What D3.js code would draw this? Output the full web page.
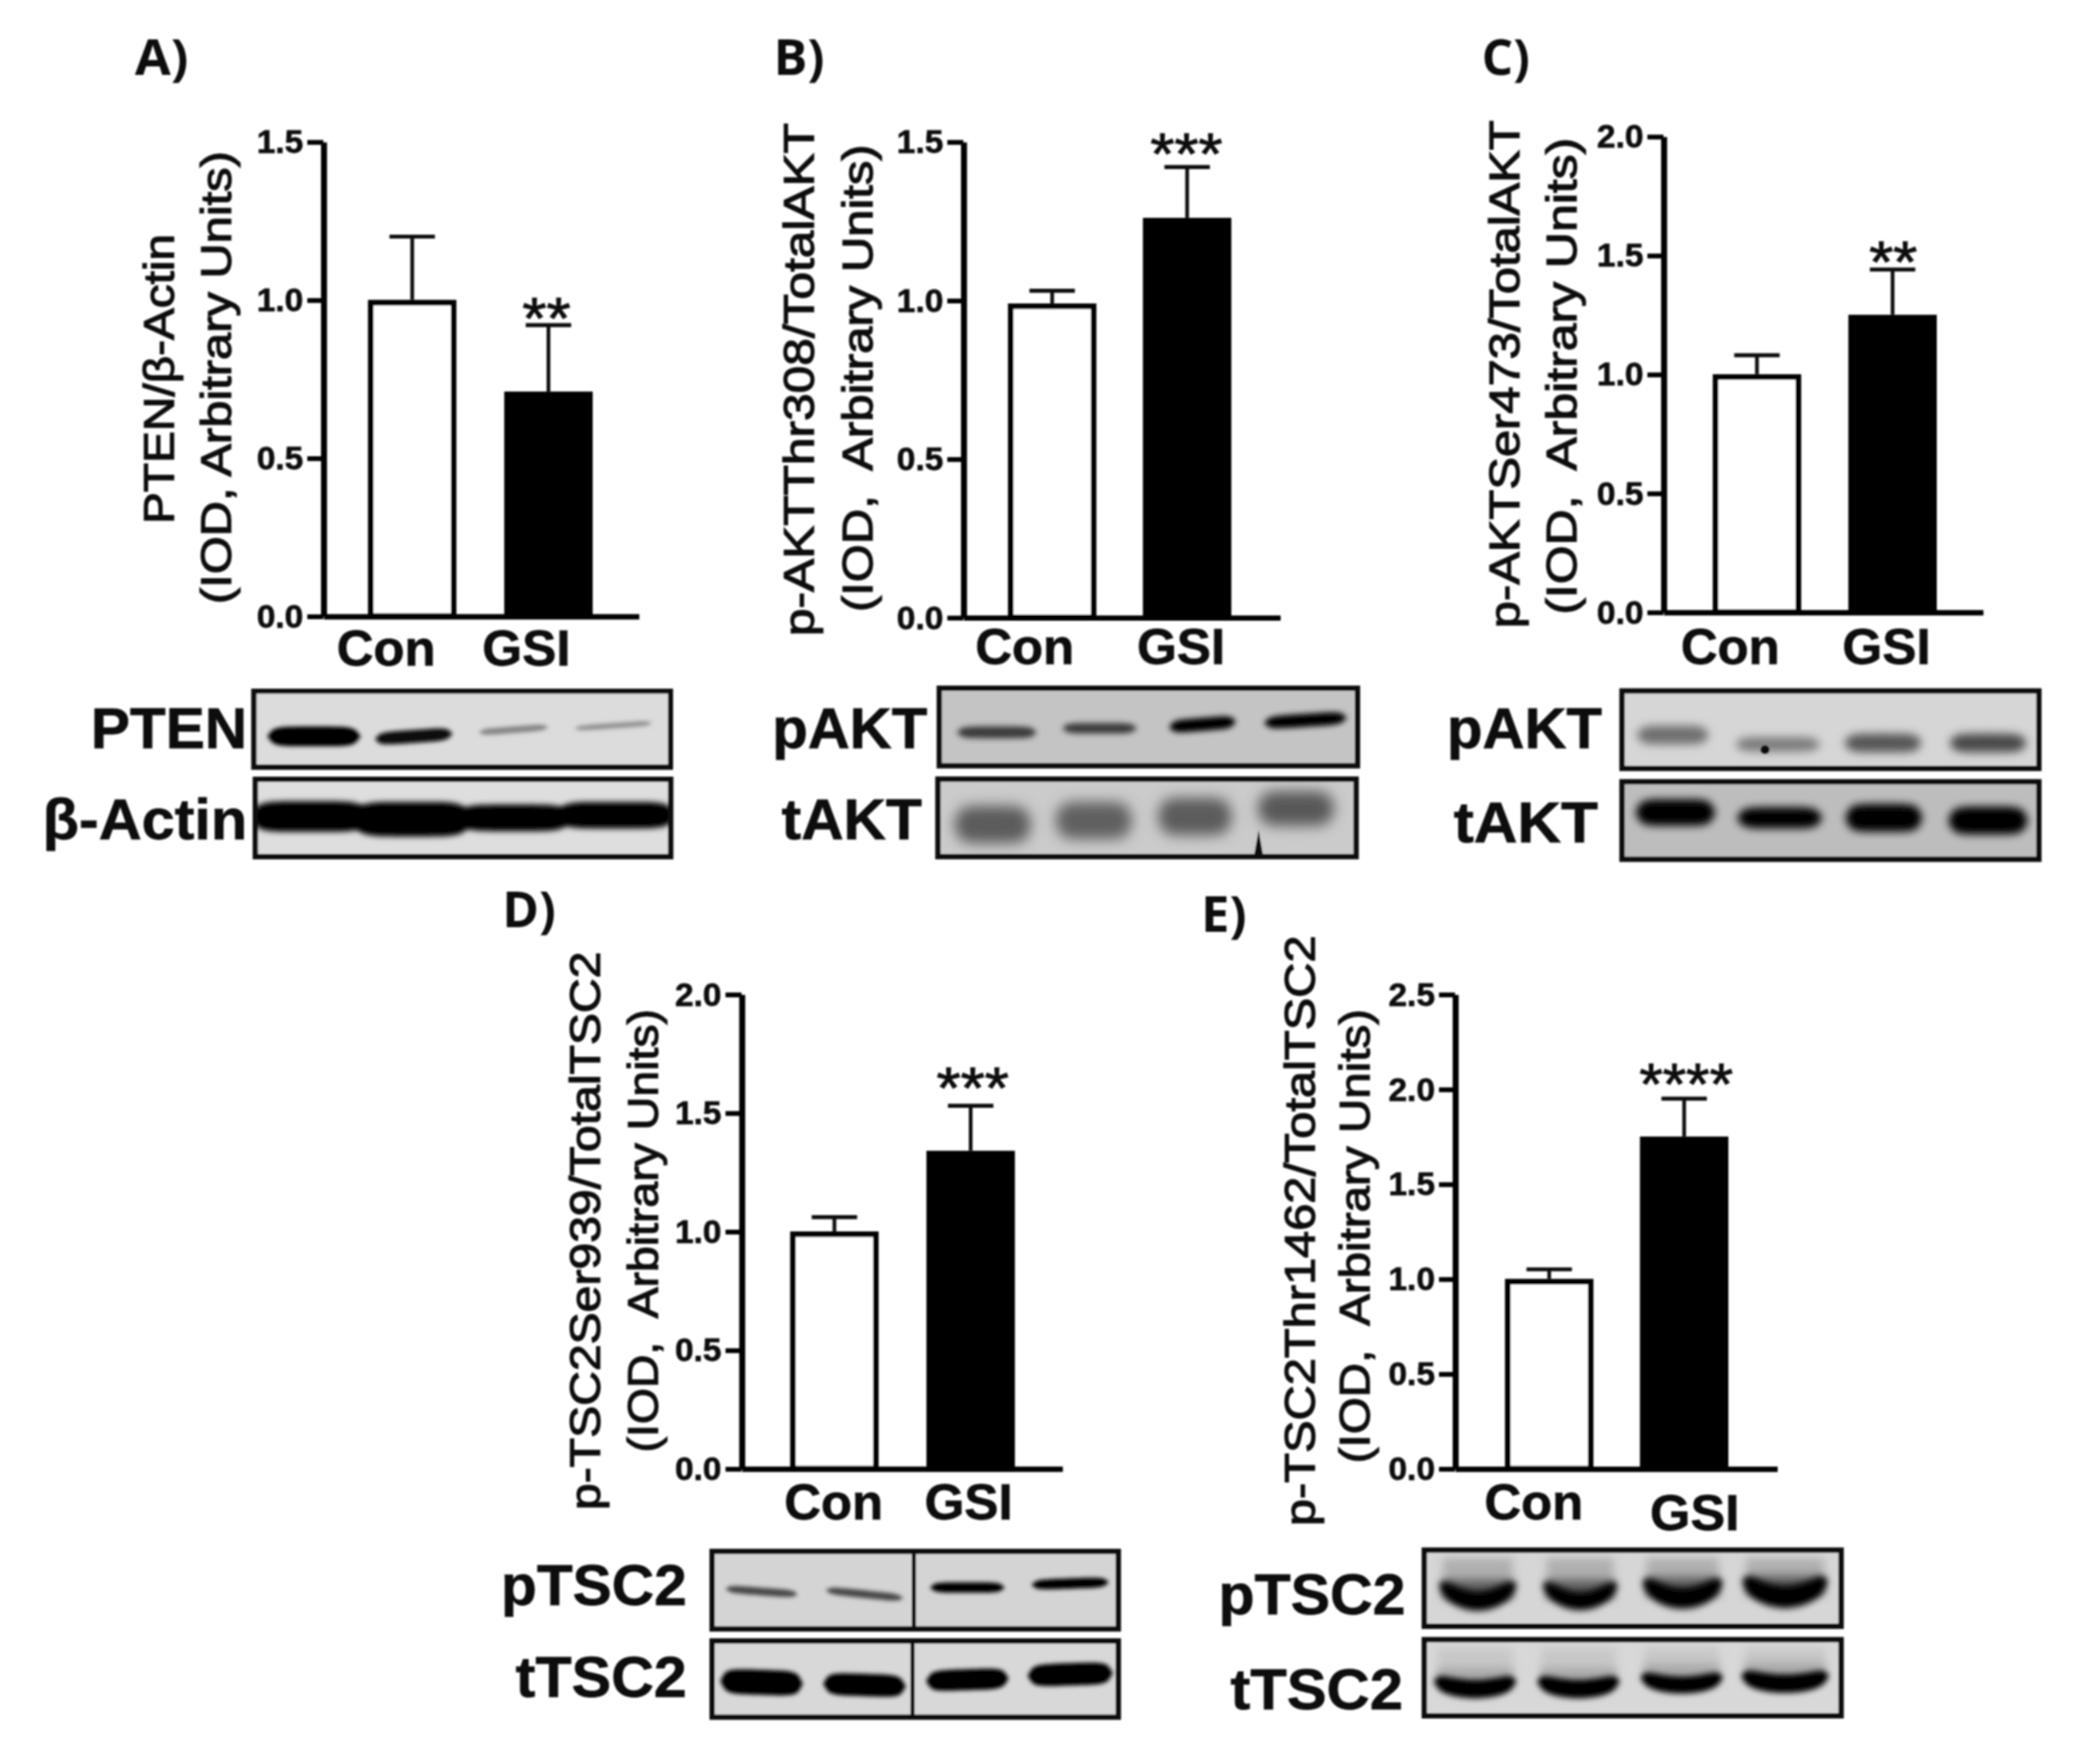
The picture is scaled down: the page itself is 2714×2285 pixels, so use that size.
<!DOCTYPE html>
<html>
<head>
<meta charset="utf-8">
<script src="https://cdn.jsdelivr.net/npm/d3@7"></script>
<style>
  html, body { margin: 0; padding: 0; background: #fff; }
  svg { display: block; }
  text { font-family: "Liberation Sans", Arial, sans-serif; fill: #111; white-space: pre; }
</style>
</head>
<body>
<svg id="fig"></svg>
<script>
// groups
var groups = ["Con", "GSI"];

// bar means
var ptenMean = [1.0, 0.71];
var aktThrMean = [0.99, 1.26];
var aktSerMean = [1.0, 1.25];
var tscSerMean = [1.0, 1.34];
var tscThrMean = [1.0, 1.75];

// top of the error bars
var ptenTop = [1.2, 0.92];
var aktThrTop = [1.03, 1.42];
var aktSerTop = [1.08, 1.44];
var tscSerTop = [1.06, 1.53];
var tscThrTop = [1.05, 1.95];

// axis ticks
var ticks15 = [0, 0.5, 1.0, 1.5];
var ticks20 = [0, 0.5, 1.0, 1.5, 2.0];
var ticks25 = [0, 0.5, 1.0, 1.5, 2.0, 2.5];

// band density of the 4 lanes of each blot (0 = nothing, 1 = saturated)
var ptenInk = [1, 0.95, 0.4, 0.35];
var actinInk = [1, 1, 1, 1];
var pAktAInk = [0.7, 0.7, 1, 1];
var tAktAInk = [0.55, 0.52, 0.55, 0.56];
var pAktBInk = [0.48, 0.42, 0.6, 0.66];
var tAktBInk = [1, 1, 1, 1];
var pTscAInk = [0.65, 0.65, 1, 1];
var tTscAInk = [1, 1, 1, 1];
var pTscBInk = [1, 1, 1, 1];
var tTscBInk = [1, 1, 1, 1];

// the page is laid out in the 1568x1320 space of the shrunk reference
var W = 1568, H = 1320;
var svg = d3.select("#fig")
    .attr("width", 2714).attr("height", 2285)
    .attr("viewBox", "0 0 " + W + " " + H);

var defs = svg.append("defs");
defs.append("filter").attr("id", "soft")
    .attr("filterUnits", "userSpaceOnUse")
    .attr("x", 0).attr("y", 0).attr("width", W).attr("height", H)
    .append("feGaussianBlur").attr("stdDeviation", 0.65);
[1.5, 2, 2.5, 3, 3.5, 5].forEach(function(s){
    defs.append("filter").attr("id", "blur" + String(s).replace(".", "_"))
	.attr("x", "-30%").attr("y", "-150%").attr("width", "160%").attr("height", "400%")
	.append("feGaussianBlur").attr("stdDeviation", s);
});

var root = svg.append("g").attr("filter", "url(#soft)");

var panels = [
    {letter: "A)", lx: 101, ly: 56, lw: 40,
     mean: ptenMean, top: ptenTop, ticks: ticks15, stars: "**", sx: 409, sy: 253, sw: 36,
     ax: 242, ay0: 461, ay1: 106, ax1: 478, cx: [308.5, 410.5],
     y1: "PTEN/\u03b2-Actin", y1x: 119, y1a: 175, y1b: 392,
     y2: "(IOD, Arbitrary Units)", y2x: 162, y2a: 113, y2b: 452,
     names: [[252, 326, 498], [361, 427, 498]]},
    {letter: "B)", lx: 579, ly: 56, lw: 38,
     mean: aktThrMean, top: aktThrTop, ticks: ticks15, stars: "***", sx: 888, sy: 130, sw: 54,
     ax: 721, ay0: 462, ay1: 106, ax1: 958, cx: [787.5, 888.5],
     y1: "p-AKTThr308/TotalAKT", y1x: 598, y1a: 92, y1b: 476,
     y2: "(IOD,  Arbitrary Units)", y2x: 642, y2a: 108, y2b: 458,
     names: [[730, 804, 497], [851, 917, 497]]},
    {letter: "C)", lx: 1109, ly: 56, lw: 36,
     mean: aktSerMean, top: aktSerTop, ticks: ticks20, stars: "**", sx: 1417, sy: 211, sw: 36,
     ax: 1245, ay0: 458, ay1: 102, ax1: 1484, cx: [1315, 1416.5],
     y1: "p-AKTSer473/TotalAKT", y1x: 1126, y1a: 90, y1b: 470,
     y2: "(IOD,  Arbitrary Units)", y2x: 1169, y2a: 103, y2b: 460,
     names: [[1258, 1332, 497], [1379, 1445, 497]]},
    {letter: "D)", lx: 376, ly: 694, lw: 40,
     mean: tscSerMean, top: tscSerTop, ticks: ticks20, stars: "***", sx: 728, sy: 829, sw: 54,
     ax: 555, ay0: 1099, ay1: 744, ax1: 795, cx: [624.5, 726.5],
     y1: "p-TSC2Ser939/TotalTSC2", y1x: 438, y1a: 712, y1b: 1130,
     y2: "(IOD,  Arbitrary Units)", y2x: 481, y2a: 755, y2b: 1087,
     names: [[587, 661, 1137], [692, 758, 1137]]},
    {letter: "E)", lx: 899, ly: 697, lw: 34,
     mean: tscThrMean, top: tscThrTop, ticks: ticks25, stars: "****", sx: 1262, sy: 826, sw: 70,
     ax: 1089, ay0: 1099, ay1: 744, ax1: 1330, cx: [1159.5, 1260.5],
     y1: "p-TSC2Thr1462/TotalTSC2", y1x: 973, y1a: 700, y1b: 1142,
     y2: "(IOD,  Arbitrary Units)", y2x: 1014, y2a: 755, y2b: 1095,
     names: [[1111, 1185, 1137], [1235, 1302, 1145]]}
];

// lane positions and band shapes live here, the densities come from the arrays above
var blots = [
    {label: "PTEN", tx: 68, tr: 185, ty: 560, x: 190, y: 517, w: 312, h: 57, bg: "#dcdcdc",
     ink: ptenInk, lanes: [45, 269], cy: [34, 34, 29, 26], bh: [15, 10, 5, 4], bw: [70, 58, 52, 58], tilt: [0, -2, -2, -2], blur: 1.5},
    {label: "\u03b2-Actin", tx: 32, tr: 185, ty: 628, x: 191, y: 583, w: 311, h: 58, bg: "#dedede",
     ink: actinInk, lanes: [41, 270], cy: [28, 30, 29, 27], bh: [23, 26, 20, 20], bw: [90, 90, 86, 90], tilt: [0, 0, 0, 0], blur: 2},
    {label: "pAKT", tx: 578, tr: 694, ty: 560, x: 703, y: 515, w: 313, h: 58, bg: "#c4c4c4",
     ink: pAktAInk, lanes: [43, 274], cy: [33, 30, 27, 24], bh: [9, 8, 10, 10], bw: [60, 56, 50, 62], tilt: [0, 0, -2, -2], blur: 2},
    {label: "tAKT", tx: 585, tr: 690, ty: 628, x: 702, y: 583, w: 313, h: 58, bg: "#cbcbcb",
     ink: tAktAInk, lanes: [41, 268], cy: [34, 31, 28, 22], bh: [28, 28, 28, 26], bw: [58, 58, 56, 58], tilt: [0, 0, 0, 0], blur: 5, notch: 240},
    {label: "pAKT", tx: 1083, tr: 1199, ty: 560, x: 1214, y: 517, w: 312, h: 58, bg: "#d6d6d6",
     ink: pAktBInk, lanes: [38, 274], cy: [33, 40, 39, 39], bh: [14, 11, 14, 14], bw: [54, 64, 58, 58], tilt: [0, 0, 0, 0], blur: 3.5, speck: [107, 44]},
    {label: "tAKT", tx: 1088, tr: 1196, ty: 630, x: 1214, y: 585, w: 312, h: 58, bg: "#bdbdbd",
     ink: tAktBInk, lanes: [40, 274], cy: [23, 27, 27, 29], bh: [20, 16, 21, 21], bw: [60, 64, 58, 60], tilt: [0, 0, 0, 0], blur: 3},
    {label: "pTSC2", tx: 375, tr: 514, ty: 1201, x: 533, y: 1161, w: 304, h: 58, bg: "#d4d4d4",
     ink: pTscAInk, lanes: [37, 268], cy: [30, 32, 27, 24], bh: [6, 6, 8, 8], bw: [54, 58, 56, 58], tilt: [2, 3, 0, -1], blur: 1.5, split: 151},
    {label: "tTSC2", tx: 386, tr: 514, ty: 1270, x: 533, y: 1228, w: 304, h: 57, bg: "#d8d8d8",
     ink: tTscAInk, lanes: [37, 268], cy: [31, 33, 29, 25], bh: [19, 17, 16, 17], bw: [62, 62, 62, 64], tilt: [1, 1, -1, -1], blur: 1.5, split: 150},
    {label: "pTSC2", tx: 912, tr: 1052, ty: 1208, x: 1066, y: 1160, w: 312, h: 57, bg: "#d6d6d6",
     ink: pTscBInk, lanes: [40, 270], cy: [38, 38, 36, 35], bh: [15, 14, 16, 17], bw: [58, 56, 60, 64], tilt: [0, 0, 0, 0], blur: 2.5, smile: 12, smear: 0.3},
    {label: "tTSC2", tx: 921, tr: 1050, ty: 1279, x: 1066, y: 1227, w: 312, h: 57, bg: "#d8d8d8",
     ink: tTscBInk, lanes: [38, 270], cy: [37, 37, 34, 33], bh: [14, 14, 13, 14], bw: [62, 62, 62, 66], tilt: [0, 0, 0, 0], blur: 2, smile: 6, smear: 0.12}
];

function drawPanel(p){
    var y = d3.scaleLinear()
	.domain([0, d3.max(p.ticks)])
	.range([p.ay0, p.ay1]);
    var x = d3.scalePoint().domain(groups).range(p.cx);
    var g = root.append("g");
    var barW = 62, barStroke = 4.2;

    // panel letter
    g.append("text").text(p.letter)
	.attr("x", p.lx).attr("y", p.ly)
	.attr("textLength", p.lw).attr("lengthAdjust", "spacingAndGlyphs")
	.style("font-family", "'Open Sans', sans-serif")
	.style("font-weight", 700).style("font-size", "37px");

    // error bars sit behind the bars
    groups.forEach(function(name, i){
	var cx = x(name);
	g.append("line")
	    .attr("x1", cx).attr("x2", cx)
	    .attr("y1", y(p.mean[i])).attr("y2", y(p.top[i]))
	    .attr("stroke", "#111").attr("stroke-width", 2.8);
	g.append("line")
	    .attr("x1", cx - 17).attr("x2", cx + 17)
	    .attr("y1", y(p.top[i])).attr("y2", y(p.top[i]))
	    .attr("stroke", "#111").attr("stroke-width", 3);
    });

    // the stroke stays inside the value so the outer edge reads the mean
    g.selectAll("rect.bar")
	.data(p.mean)
	.enter().append("rect")
	.attr("class", "bar")
	.attr("x", function(d, i){ return x(groups[i]) - barW / 2; })
	.attr("width", barW)
	.attr("y", function(d){ return y(d) + barStroke / 2; })
	.attr("height", function(d){ return p.ay0 - y(d) - barStroke / 2; })
	.attr("fill", function(d, i){ return i == 0 ? "#fff" : "#000"; })
	.attr("stroke", "#000").attr("stroke-width", barStroke);

    // axes
    var yAxis = d3.axisLeft(y)
	.tickValues(p.ticks)
	.tickFormat(d3.format(".1f"))
	.tickSizeInner(12).tickSizeOuter(0).tickPadding(3);
    var ga = g.append("g").attr("transform", "translate(" + p.ax + ",0)").call(yAxis);
    ga.select(".domain").attr("stroke", "#000").attr("stroke-width", 4.5);
    ga.selectAll(".tick line").attr("stroke", "#000").attr("stroke-width", 3.6);
    ga.selectAll(".tick text")
	.style("font-family", "'Liberation Sans', sans-serif")
	.style("font-weight", 700).style("font-size", "25px")
	.style("stroke", "#111").style("stroke-width", 0.5)
	.attr("fill", "#111");

    var xLine = d3.scaleLinear().domain([0, 1]).range([p.ax, p.ax1]);
    var gb = g.append("g").attr("transform", "translate(0," + p.ay0 + ")")
	.call(d3.axisBottom(xLine).tickValues([]).tickSizeOuter(0));
    gb.select(".domain").attr("stroke", "#000").attr("stroke-width", 4);

    // group names, these do not sit quite under their bars in the original
    p.names.forEach(function(n, i){
	g.append("text").text(groups[i])
	    .attr("x", n[0]).attr("y", n[2])
	    .attr("textLength", n[1] - n[0]).attr("lengthAdjust", "spacingAndGlyphs")
	    .style("font-weight", 700).style("font-size", "37px")
	    .style("stroke", "#111").style("stroke-width", 0.5);
    });

    // stars
    g.append("text").text(p.stars)
	.attr("x", p.sx - p.sw / 2).attr("y", p.sy)
	.attr("textLength", p.sw).attr("lengthAdjust", "spacingAndGlyphs")
	.style("font-weight", 400).style("font-size", "44px")
	.style("stroke", "#111").style("stroke-width", 0.7);

    // rotated y titles
    [[p.y1, p.y1x, p.y1a, p.y1b], [p.y2, p.y2x, p.y2a, p.y2b]].forEach(function(t){
	g.append("text").text(t[0])
	    .attr("transform", "translate(" + (t[1] + 11) + "," + t[3] + ") rotate(-90)")
	    .attr("textLength", t[3] - t[2]).attr("lengthAdjust", "spacingAndGlyphs")
	    .style("font-size", "32px")
	    .style("stroke", "#111").style("stroke-width", 0.85);
    });
}

function drawBlot(b){
    var lane = d3.scalePoint().domain(d3.range(b.ink.length)).range(b.lanes);
    var shade = d3.scaleLinear().domain([0, 1]).range([b.bg, "#000"]);
    var g = root.append("g").attr("transform", "translate(" + b.x + "," + b.y + ")");

    root.append("text").text(b.label)
	.attr("x", b.tx).attr("y", b.ty)
	.attr("textLength", b.tr - b.tx).attr("lengthAdjust", "spacingAndGlyphs")
	.style("font-weight", 700).style("font-size", "43px")
	.style("stroke", "#111").style("stroke-width", 0.5);

    var clipId = "clip" + b.x + "_" + b.y;
    defs.append("clipPath").attr("id", clipId).append("rect")
	.attr("width", b.w).attr("height", b.h);

    g.append("rect").attr("width", b.w).attr("height", b.h).attr("fill", b.bg);
    var inner = g.append("g").attr("clip-path", "url(#" + clipId + ")");

    var ts = d3.range(0, 1.0001, 0.05);
    b.ink.forEach(function(ink, i){
	var smile = b.smile || 0;
	var left = lane(i) - b.bw[i] / 2;
	var mid = function(t){
	    return b.cy[i] + b.tilt[i] * (t - 0.5) * 2 - smile * Math.pow(2 * t - 1, 2);
	};
	var half = function(t){
	    return b.bh[i] / 2 * Math.sqrt(1 - Math.pow(2 * t - 1, 6));
	};
	var area = d3.area().curve(d3.curveBasis)
	    .x(function(t){ return left + t * b.bw[i]; })
	    .y0(function(t){ return mid(t) - half(t); })
	    .y1(function(t){ return mid(t) + half(t); });
	if(b.smear){
	    inner.append("rect")
		.attr("x", left + 3).attr("width", b.bw[i] - 6)
		.attr("y", 6).attr("height", b.cy[i] - 8)
		.attr("fill", shade(b.smear * 0.6))
		.attr("filter", "url(#blur3_5)");
	    inner.append("rect")
		.attr("x", left + 3).attr("width", b.bw[i] - 6)
		.attr("y", b.cy[i] - 16).attr("height", 14)
		.attr("fill", shade(b.smear * 1.8))
		.attr("filter", "url(#blur3_5)");
	}
	inner.append("path").attr("d", area(ts))
	    .attr("fill", shade(ink))
	    .attr("filter", "url(#blur" + String(b.blur).replace(".", "_") + ")");
    });

    if(b.notch)
	inner.append("path")
	    .attr("d", d3.line()([[b.notch - 3.5, b.h], [b.notch, b.h - 20], [b.notch + 3.5, b.h]]))
	    .attr("fill", "#111");
    if(b.speck)
	inner.append("circle").attr("cx", b.speck[0]).attr("cy", b.speck[1])
	    .attr("r", 3.4).attr("fill", "#111");
    if(b.split)
	g.append("line")
	    .attr("x1", b.split).attr("x2", b.split)
	    .attr("y1", 0).attr("y2", b.h)
	    .attr("stroke", "#111").attr("stroke-width", 3);

    g.append("rect").attr("width", b.w).attr("height", b.h)
	.attr("fill", "none").attr("stroke", "#111").attr("stroke-width", 4);
}

panels.forEach(drawPanel);
blots.forEach(drawBlot);
</script>
</body>
</html>
